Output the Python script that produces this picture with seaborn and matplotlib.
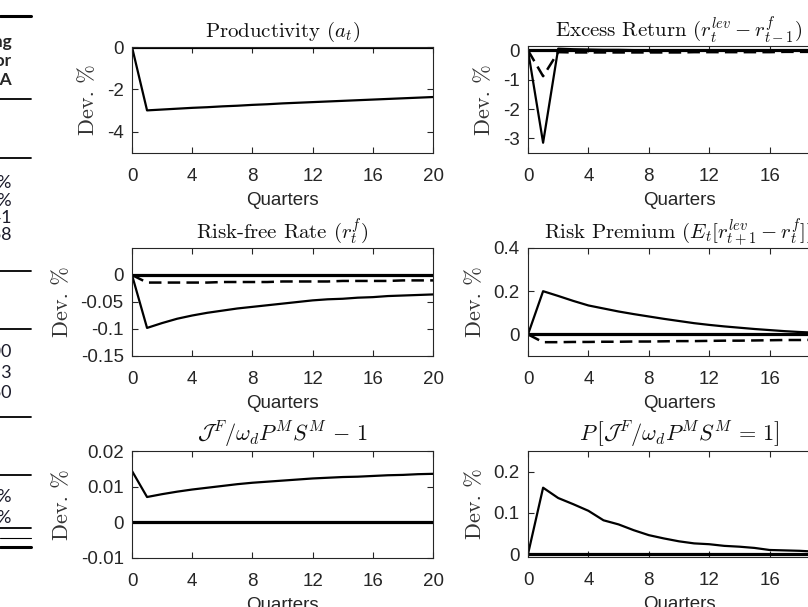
import numpy as np
import matplotlib
matplotlib.use("Agg")
import matplotlib.pyplot as plt
from matplotlib.lines import Line2D
from matplotlib.ticker import FormatStrFormatter
import seaborn as sns

quarters = list(range(21))
zero_line = [0.0] * 21

prod_solid = [0, -2.99, -2.95, -2.91, -2.87, -2.84, -2.80, -2.77, -2.73, -2.70, -2.66,
              -2.63, -2.60, -2.57, -2.54, -2.51, -2.48, -2.45, -2.42, -2.39, -2.36]

exret_solid = [0, -3.15, 0.06, 0.04, 0.03, 0.02, 0.02, 0.01, 0.01, 0.01, 0.01,
               0.01, 0.0, 0.0, 0.0, 0.0, 0.0, 0.0, 0.0, 0.0, 0.0]
exret_dash = [0, -0.88, -0.06, -0.07, -0.07, -0.07, -0.07, -0.07, -0.07, -0.07, -0.07,
              -0.06, -0.06, -0.06, -0.06, -0.06, -0.06, -0.05, -0.05, -0.05, -0.05]

rf_solid = [0, -0.098, -0.089, -0.081, -0.075, -0.070, -0.066, -0.062, -0.059, -0.056, -0.053,
            -0.050, -0.047, -0.045, -0.044, -0.042, -0.041, -0.039, -0.038, -0.037, -0.036]
rf_dash = [0, -0.014, -0.014, -0.014, -0.014, -0.014, -0.013, -0.013, -0.013, -0.013, -0.012,
           -0.012, -0.012, -0.012, -0.011, -0.011, -0.011, -0.011, -0.010, -0.010, -0.010]

rp_solid = [0, 0.200, 0.178, 0.155, 0.134, 0.120, 0.106, 0.094, 0.083, 0.072, 0.062,
            0.052, 0.044, 0.037, 0.031, 0.025, 0.020, 0.015, 0.011, 0.008, 0.006]
rp_dash = [0, -0.036, -0.036, -0.035, -0.035, -0.034, -0.034, -0.033, -0.033, -0.032, -0.031,
           -0.031, -0.030, -0.029, -0.029, -0.028, -0.027, -0.026, -0.026, -0.025, -0.024]

jf_solid = [0.0144, 0.0071, 0.0079, 0.0086, 0.0092, 0.0097, 0.0102, 0.0107, 0.0111, 0.0114, 0.0117,
            0.0120, 0.0123, 0.0125, 0.0127, 0.0128, 0.0130, 0.0132, 0.0133, 0.0135, 0.0136]

pj_solid = [0, 0.161, 0.136, 0.121, 0.105, 0.082, 0.072, 0.058, 0.046, 0.038, 0.031,
            0.026, 0.024, 0.020, 0.018, 0.015, 0.010, 0.009, 0.008, 0.006, 0.005]

titles = [
    r"Productivity ($a_t$)",
    r"Excess Return ($r_t^{lev} - r_{t-1}^f$)",
    r"Risk-free Rate ($r_t^f$)",
    r"Risk Premium ($E_t[r_{t+1}^{lev} - r_t^f]$)",
    r"$\mathcal{J}^F/\omega_d P^M S^M \,-\, 1$",
    r"$P\,\left[\mathcal{J}^F/\omega_d P^M S^M \,=\, 1\right]$",
]
title_sizes = [15, 15, 15, 15, 16, 16]
yticks = [[-4, -2, 0], [-3, -2, -1, 0], [-0.15, -0.1, -0.05, 0],
          [0, 0.2, 0.4], [-0.01, 0, 0.01, 0.02], [0, 0.1, 0.2]]
ylims = [(-5, 0), (-3.5, 0.15), (-0.15, 0.05), (-0.1, 0.4), (-0.01, 0.02), (-0.007, 0.25)]
solids = [prod_solid, exret_solid, rf_solid, rp_solid, jf_solid, pj_solid]
dashes = [None, exret_dash, rf_dash, rp_dash, None, None]

# left table fragment (cut off in the screenshot)
table_head = ["Timing", "Factor", "DATA"]
table_rows1 = ["2.1%", "3.4%", "0.41", "0.68"]
table_rows2 = ["1.00", "0.53", "0.60"]
table_rows3 = ["1.5%", "2.0%"]

sns.set_theme(style="ticks")
plt.rcParams["font.family"] = ["Liberation Sans", "DejaVu Sans"]
plt.rcParams["mathtext.fontset"] = "cm"
plt.rcParams["axes.unicode_minus"] = False

W, H = 808, 607
fig = plt.figure(figsize=(W / 100, H / 100), dpi=100)
fig.patch.set_facecolor("white")


def px_rect(x0, x1, y0, y1):
    return [x0 / W, 1 - y1 / H, (x1 - x0) / W, (y1 - y0) / H]


rects = [px_rect(132, 433, 47, 153), px_rect(528, 830, 46, 153),
         px_rect(132, 433, 248, 356), px_rect(528, 830, 248, 356),
         px_rect(132, 433, 451, 558), px_rect(528, 830, 451, 557)]

axis_grey = "#262626"
for i, r in enumerate(rects):
    ax = fig.add_axes(r)
    sns.lineplot(x=quarters, y=zero_line, ax=ax, color="black", linewidth=2.3)
    if dashes[i] is not None:
        sns.lineplot(x=quarters, y=dashes[i], ax=ax, color="black", linewidth=1.8,
                     linestyle=(0, (5, 2.5)))
    sns.lineplot(x=quarters, y=solids[i], ax=ax, color="black", linewidth=1.6)
    ax.set_xlim(0, 20)
    ax.set_ylim(*ylims[i])
    ax.set_xticks([0, 4, 8, 12, 16, 20])
    ax.set_yticks(yticks[i])
    ax.yaxis.set_major_formatter(FormatStrFormatter("%g"))
    ax.tick_params(direction="in", length=4, width=0.8, top=True, right=True,
                   labelsize=13.5, colors=axis_grey, pad=6)
    ax.tick_params(axis="x", pad=11)
    for s in ax.spines.values():
        s.set_visible(True)
        s.set_linewidth(0.8)
        s.set_color(axis_grey)
    ax.set_title(titles[i], fontsize=title_sizes[i], pad=7, color="#111111", family="cmr10")
    ax.set_xlabel("Quarters", fontsize=13.5, color=axis_grey, labelpad=5)
    ax.set_ylabel("Dev. %", fontsize=16, color="#333333", labelpad=6, family="cmr10")

# table lines and text
def hline(y, lw):
    fig.add_artist(Line2D([0, 31 / W], [1 - y / H, 1 - y / H], color="black",
                          linewidth=lw, transform=fig.transFigure))


for y, lw in [(16, 2.2), (99, 1.3), (158, 1.3), (271, 1.3), (329, 1.3),
              (417, 1.3), (475, 1.3), (528, 1.3), (538, 0.8), (547, 2.2)]:
    hline(y, lw)

tfont = ["Lato", "DejaVu Sans"]
for k, t in enumerate(table_head):
    fig.text(12 / W, 1 - (42 + 19 * k) / H, t, ha="right", va="center",
             fontsize=12.5, fontweight="bold", family=tfont)
for k, t in enumerate(table_rows1):
    fig.text(12 / W, 1 - (183 + 17.5 * k) / H, t, ha="right", va="center",
             fontsize=13, family=tfont, color="#1a1a2a")
for k, t in enumerate(table_rows2):
    fig.text(12 / W, 1 - (352 + 20.5 * k) / H, t, ha="right", va="center",
             fontsize=13, family=tfont, color="#1a1a2a")
for k, t in enumerate(table_rows3):
    fig.text(12 / W, 1 - (497 + 21 * k) / H, t, ha="right", va="center",
             fontsize=13, family=tfont, color="#1a1a2a")

fig.savefig("out.png", dpi=100)
